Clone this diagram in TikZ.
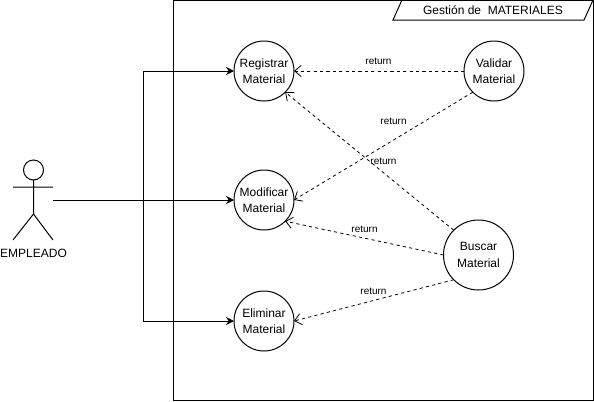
\documentclass[tikz,border=0pt]{standalone}
\usepackage{fontspec}
\setmainfont{Liberation Sans}
\usetikzlibrary{arrows.meta,positioning,shapes.geometric}
\tikzset{
      base/.style = {draw, line width=.75pt, inner sep=0pt, outer sep=0pt},
   usecase/.style = {base, circle, minimum size=45pt, align=center, font=\fontsize{9}{12.4}\selectfont},
     buscar/.style = {usecase, minimum size=52.5pt},
     label/.style = {font=\fontsize{7.5}{9}\selectfont, inner sep=0pt},
       arr/.style = {-{Stealth[length=6pt,width=6pt]}, line width=.75pt},
      back/.style = {-{Straight Barb[length=5pt,width=8.5pt]}, line width=.6pt, dash pattern=on 2.4pt off 2.4pt},
}
\begin{document}
\begin{tikzpicture}[x=.75pt,y=-.75pt]
 \useasboundingbox (0,0) rectangle (594,401);
 % system frame and its title
 \node[base, minimum width=315pt, minimum height=300pt] (frame) at (383,200) {};
 \node[base, trapezium, trapezium stretches body, trapezium left angle=45, trapezium right angle=135,
       minimum width=150pt, minimum height=15pt, font=\fontsize{9}{11}\selectfont] (title) at (493,10) {Gesti\'on de\ \ MATERIALES};
 % actor
 \node[base, circle, minimum size=15pt] (head) at (33.5,170) {};
 \coordinate (hip) at (33.5,214);
 \coordinate (armL) at (13,187);
 \coordinate (armR) at (53,187);
 \coordinate (legL) at (13,240);
 \coordinate (legR) at (53,240);
 \draw[line width=.75pt] (head.south) -- (hip) (armL) -- (armR) (legL) -- (hip) -- (legR);
 \node[font=\fontsize{9}{11}\selectfont, inner sep=0pt] (empleado) at (33.5,253.5) {EMPLEADO};
 % use cases
 \node[usecase] (registrar) at (264,71) {Registrar\\Material};
 \node[usecase, below=51.75pt of registrar] (modificar) {Modificar\\Material};
 \node[usecase, below=45.75pt of modificar] (eliminar) {Eliminar\\Material};
 \node[usecase, right=127.5pt of registrar] (validar) {Validar\\Material};
 \node[buscar] (buscarM) at (478.5,255) {Buscar\\Material};
 % actor to use cases
 \coordinate (start) at (53,200);
 \coordinate (branch) at (143,200);
 \draw[arr] (start) -- (modificar.west);
 \draw[arr] (branch) |- (registrar.west);
 \draw[arr] (branch) |- (eliminar.west);
 % returns
 \draw[back] (validar.west) -- (registrar.east);
 \draw[back] (validar.south west) -- (modificar.east);
 \draw[back] (buscarM.north west) -- (registrar.south east);
 \draw[back] (buscarM.west) -- (modificar.south east);
 \draw[back] (buscarM.south west) -- (eliminar.east);
 \node[label] (ret1) at (378.5,61) {return};
 \node[label] (ret2) at (393.5,121) {return};
 \node[label] (ret3) at (383.5,161) {return};
 \node[label] (ret4) at (364.5,229) {return};
 \node[label] (ret5) at (373.5,291) {return};
\end{tikzpicture}
\end{document}
